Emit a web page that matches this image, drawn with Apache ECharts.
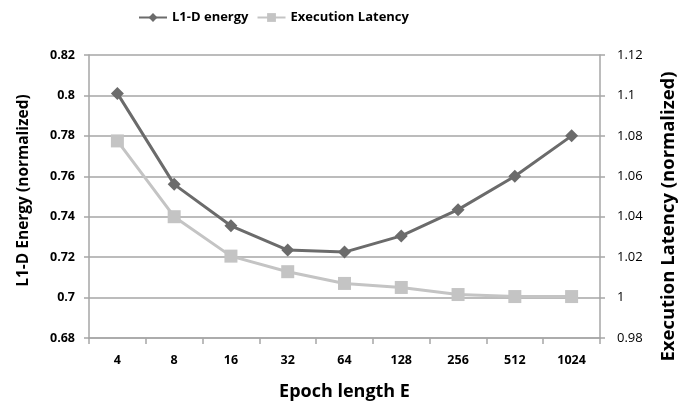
<!DOCTYPE html>
<html><head><meta charset="utf-8">
<script src="https://cdn.jsdelivr.net/npm/echarts@6/dist/echarts.min.js"></script>
<style>html,body{margin:0;padding:0;background:#fff}#c{width:686px;height:411px}</style>
</head><body><div id="c"></div>
<script>
const categories = ['4','8','16','32','64','128','256','512','1024'];
const energy = [0.801, 0.756, 0.7355, 0.7235, 0.7225, 0.7305, 0.7435, 0.760, 0.780];
const latency = [1.0775, 1.040, 1.0205, 1.0128, 1.007, 1.005, 1.0015, 1.0005, 1.0005];
const FONT = 'Open Sans';
const chart = echarts.init(document.getElementById('c'));
chart.setOption({
  animation: false,
  textStyle: {fontFamily: FONT},
  legend: {
    top: 6, left: 133, itemWidth: 28, itemHeight: 11, itemGap: 8,
    textStyle: {fontFamily: FONT, fontWeight: 'bold', fontSize: 13, color: '#000'},
    data: ['L1-D energy', 'Execution Latency']
  },
  grid: {left: 89, right: 80, top: 55, bottom: 73},
  xAxis: {
    type: 'category', data: categories, boundaryGap: true,
    name: 'Epoch length E', nameLocation: 'middle', nameGap: 45,
    nameTextStyle: {fontFamily: FONT, fontWeight: 'bold', fontSize: 18, color: '#000'},
    axisLine: {lineStyle: {color: '#a6a6a6', width: 1.5}},
    axisTick: {show: true, interval: 0, length: 6, lineStyle: {color: '#a6a6a6', width: 1.5}},
    axisLabel: {fontFamily: FONT, fontWeight: 'bold', fontSize: 12.5, color: '#000', margin: 16}
  },
  yAxis: [{
    type: 'value', min: 0.68, max: 0.82, interval: 0.02,
    name: 'L1-D Energy (normalized)', nameLocation: 'middle', nameGap: 57, nameRotate: 90,
    nameTextStyle: {fontFamily: FONT, fontWeight: 'bold', fontSize: 15.5, color: '#000', padding: [0, 0, 0, 12]},
    axisLine: {show: true, lineStyle: {color: '#a6a6a6', width: 1.5}},
    axisTick: {show: true, length: 5, lineStyle: {color: '#a6a6a6', width: 1.5}},
    axisLabel: {fontFamily: FONT, fontWeight: 'bold', fontSize: 12.5, color: '#000', margin: 14,
      formatter: v => String(parseFloat(v.toFixed(2)))},
    splitLine: {lineStyle: {color: '#a6a6a6', width: 1.5}}
  }, {
    type: 'value', min: 0.98, max: 1.12, interval: 0.02, position: 'right',
    name: 'Execution Latency (normalized)', nameLocation: 'middle', nameGap: 59, nameRotate: 90,
    nameTextStyle: {fontFamily: FONT, fontWeight: 'bold', fontSize: 18.5, color: '#000', padding: [0, 40, 0, 0]},
    axisLine: {show: true, lineStyle: {color: '#a6a6a6', width: 1.5}},
    axisTick: {show: true, length: 5, lineStyle: {color: '#a6a6a6', width: 1.5}},
    axisLabel: {fontFamily: FONT, fontSize: 13, color: '#000', margin: 17,
      formatter: v => String(parseFloat(v.toFixed(2)))},
    splitLine: {show: false}
  }],
  series: [{
    name: 'L1-D energy', type: 'line', yAxisIndex: 0, data: energy,
    symbol: 'diamond', symbolSize: 13, showAllSymbol: true,
    lineStyle: {color: '#6b6b6b', width: 3},
    itemStyle: {color: '#6b6b6b'}, z: 3
  }, {
    name: 'Execution Latency', type: 'line', yAxisIndex: 1, data: latency,
    symbol: 'rect', symbolSize: 13, showAllSymbol: true,
    lineStyle: {color: '#c4c4c4', width: 3},
    itemStyle: {color: '#c4c4c4'}, z: 2
  }]
});
</script></body></html>
